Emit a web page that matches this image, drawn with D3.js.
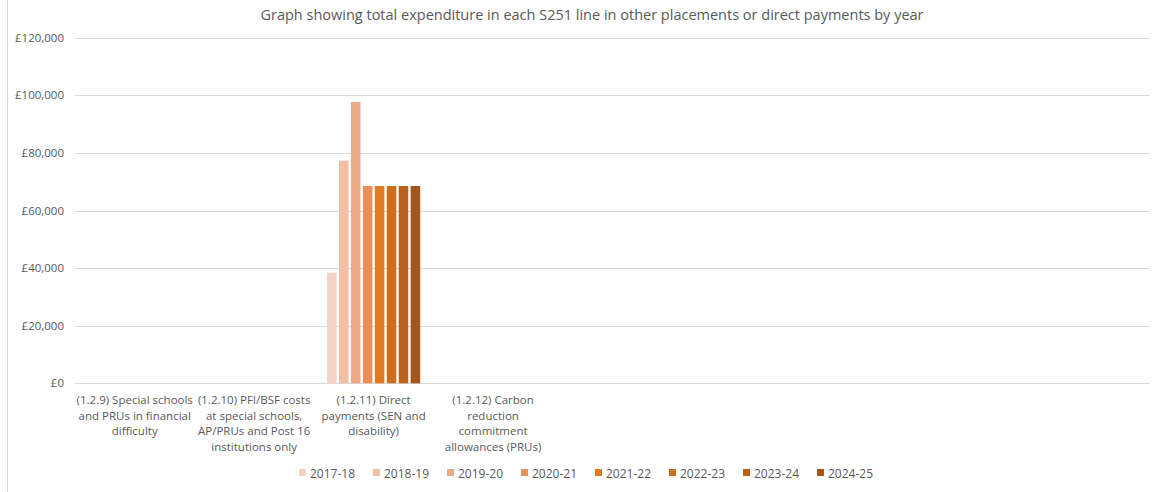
<!DOCTYPE html>
<html>
<head>
<meta charset="utf-8">
<script src="https://cdn.jsdelivr.net/npm/d3@7"></script>
<style>
  body { margin: 0; background: #fff; }
  text { font-family: "Open Sans", "Liberation Sans", sans-serif; fill: #595959; }
</style>
</head>
<body>
<div id="chart"></div>
<script>
// Data
const categories = [
  "(1.2.9) Special schools and PRUs in financial difficulty",
  "(1.2.10) PFI/BSF costs at special schools, AP/PRUs and Post 16 institutions only",
  "(1.2.11) Direct payments (SEN and disability)",
  "(1.2.12) Carbon reduction commitment allowances (PRUs)",
  "", "", "", "", ""
]
const years = ["2017-18", "2018-19", "2019-20", "2020-21", "2021-22", "2022-23", "2023-24", "2024-25"]
const values2017 = [0, 0, 38400, 0, 0, 0, 0, 0, 0]
const values2018 = [0, 0, 77300, 0, 0, 0, 0, 0, 0]
const values2019 = [0, 0, 97700, 0, 0, 0, 0, 0, 0]
const values2020 = [0, 0, 68500, 0, 0, 0, 0, 0, 0]
const values2021 = [0, 0, 68500, 0, 0, 0, 0, 0, 0]
const values2022 = [0, 0, 68500, 0, 0, 0, 0, 0, 0]
const values2023 = [0, 0, 68500, 0, 0, 0, 0, 0, 0]
const values2024 = [0, 0, 68500, 0, 0, 0, 0, 0, 0]
const yTicks = [0, 20000, 40000, 60000, 80000, 100000, 120000]

const seriesValues = [values2017, values2018, values2019, values2020, values2021, values2022, values2023, values2024]
const colors = ["#F4D3C5", "#F1BEA6", "#EDA986", "#EA8F59", "#E07B20", "#CD6D1E", "#BA6219", "#A5541A"]

const width = 1160, height = 492
const margin = {top: 38, right: 10, bottom: 109, left: 75}

const svg = d3.select("#chart").append("svg")
  .attr("width", width)
  .attr("height", height)

// chart border (left edge visible)
svg.append("line")
  .attr("x1", 7.5).attr("x2", 7.5)
  .attr("y1", 0).attr("y2", height)
  .attr("stroke", "#d9d9d9")

svg.append("text")
  .attr("x", 592).attr("y", 20)
  .attr("text-anchor", "middle")
  .style("font-size", "14.5px")
  .text("Graph showing total expenditure in each S251 line in other placements or direct payments by year")

const x = d3.scaleBand()
  .domain(d3.range(categories.length))
  .range([margin.left, 1150])

const y = d3.scaleLinear()
  .domain([0, 120000])
  .range([383.3, 37.7])

const x1 = d3.scaleBand()
  .domain(d3.range(years.length))
  .range([0, x.bandwidth()])
  .paddingInner(0.2)
  .paddingOuter(1.1)

// gridlines
svg.append("g")
  .selectAll("line")
  .data(yTicks)
  .join("line")
    .attr("x1", margin.left).attr("x2", 1150)
    .attr("y1", d => Math.round(y(d)) + 0.5)
    .attr("y2", d => Math.round(y(d)) + 0.5)
    .attr("stroke", "#d9d9d9")

// y labels
const fmt = d => "£" + d3.format(",")(d)
svg.append("g")
  .selectAll("text")
  .data(yTicks)
  .join("text")
    .attr("x", 64)
    .attr("y", d => y(d) + 4)
    .attr("text-anchor", "end")
    .style("font-size", "11.5px")
    .text(fmt)

// bars
const barGroup = svg.append("g")
seriesValues.forEach((vals, si) => {
  barGroup.append("g")
    .selectAll("rect")
    .data(vals.map((v, ci) => ({v, ci})).filter(d => d.v > 0))
    .join("rect")
      .attr("x", d => x(d.ci) + x1(si))
      .attr("width", x1.bandwidth())
      .attr("y", d => y(d.v))
      .attr("height", d => y(0) - y(d.v))
      .attr("fill", colors[si])
})

// category labels, wrapped
function wrapLines(str, maxW) {
  const words = str.split(" ")
  const lines = []
  let line = ""
  const ctx = document.createElement("canvas").getContext("2d")
  ctx.font = "11.5px 'Open Sans'"
  words.forEach(w => {
    const test = line ? line + " " + w : w
    if (ctx.measureText(test).width > maxW && line) {
      lines.push(line)
      line = w
    } else {
      line = test
    }
  })
  if (line) lines.push(line)
  return lines
}

const labelGroup = svg.append("g")
categories.forEach((c, i) => {
  if (!c) return
  const t = labelGroup.append("text")
    .attr("text-anchor", "middle")
    .style("font-size", "11.5px")
  wrapLines(c, 119).forEach((ln, k) => {
    t.append("tspan")
      .attr("x", x(i) + x.bandwidth() / 2)
      .attr("y", 404 + k * 15.5)
      .text(ln)
  })
})

// legend
const legend = svg.append("g")
  .selectAll("g")
  .data(years)
  .join("g")
    .attr("transform", (d, i) => `translate(${299 + i * 74},473)`)

legend.append("rect")
  .attr("x", 0).attr("y", -4)
  .attr("width", 7).attr("height", 7)
  .attr("fill", (d, i) => colors[i])

legend.append("text")
  .attr("x", 11).attr("y", 4.5)
  .style("font-size", "12px")
  .text(d => d)
</script>
</body>
</html>
